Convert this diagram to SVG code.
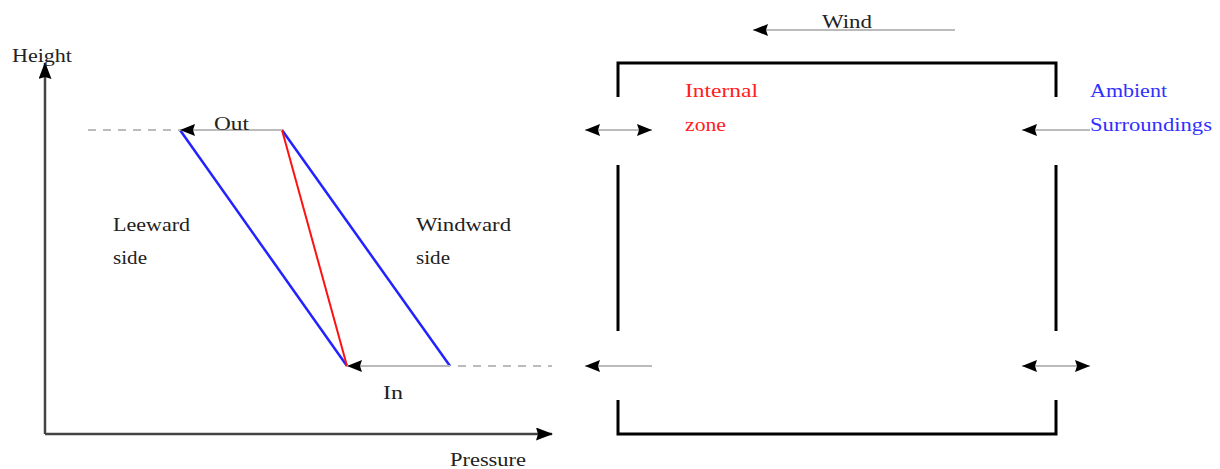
<svg xmlns="http://www.w3.org/2000/svg" width="1220" height="469" viewBox="0 0 1220 469">
<style>
text{font-family:"Liberation Serif","DejaVu Serif",serif;font-size:19px;fill:#222}
.axis{stroke:#444;stroke-width:2.5;fill:none}
.arr{stroke:#bbb;stroke-width:2;fill:none}
.dash{stroke:#bbb;stroke-width:2;stroke-dasharray:8,7;fill:none}
.wall{stroke:#000;stroke-width:3;fill:none}
.red{fill:#ff2020}
.blue{fill:#3030ff}
</style>
<defs>
<marker id="ah" viewBox="0 0 15 12" refX="15" refY="6" markerWidth="15" markerHeight="12" markerUnits="userSpaceOnUse" orient="auto-start-reverse">
<path d="M0,0 L15,6 L0,12 L2,6 Z" fill="#000"/>
</marker>
<marker id="axh" viewBox="0 0 17 13" refX="16" refY="6.5" markerWidth="17" markerHeight="13" markerUnits="userSpaceOnUse" orient="auto">
<path d="M0,0 L17,6.5 L0,13 L2,6.5 Z" fill="#000"/>
</marker>
</defs>
<g id="axes">
<line class="axis" x1="45" y1="434" x2="45" y2="63" marker-end="url(#axh)"/>
<line class="axis" x1="45" y1="434" x2="552" y2="434" marker-end="url(#axh)"/>
<text x="12" y="62" textLength="60" lengthAdjust="spacingAndGlyphs">Height</text>
<text x="450" y="466" textLength="76" lengthAdjust="spacingAndGlyphs">Pressure</text>
</g>
<g id="profile">
<line x1="180" y1="130" x2="347" y2="366" stroke="#2222ff" stroke-width="2.5"/>
<line x1="282" y1="130" x2="450" y2="366" stroke="#2222ff" stroke-width="2.5"/>
<line x1="282" y1="130" x2="347" y2="366" stroke="#ff1010" stroke-width="2"/>
<text x="113" y="231" textLength="77" lengthAdjust="spacingAndGlyphs">Leeward</text>
<text x="113" y="264" textLength="34" lengthAdjust="spacingAndGlyphs">side</text>
<text x="416" y="231" textLength="95" lengthAdjust="spacingAndGlyphs">Windward</text>
<text x="416" y="264" textLength="34" lengthAdjust="spacingAndGlyphs">side</text>
</g>
<g id="building">
<path class="wall" d="M618,97 V63 H1056 V97"/>
<path class="wall" d="M618,165 V331"/>
<path class="wall" d="M1056,165 V331"/>
<path class="wall" d="M618,400 V434 H1056 V400"/>
<text class="red" x="685" y="97" textLength="73" lengthAdjust="spacingAndGlyphs">Internal</text>
<text class="red" x="685" y="131" textLength="41" lengthAdjust="spacingAndGlyphs">zone</text>
<text class="blue" x="1090" y="97" textLength="77" lengthAdjust="spacingAndGlyphs">Ambient</text>
<text class="blue" x="1090" y="131" textLength="122" lengthAdjust="spacingAndGlyphs">Surroundings</text>
</g>
<g id="connectors">
<line class="dash" x1="88" y1="130" x2="180" y2="130"/>
<line class="arr" x1="282" y1="130" x2="180" y2="130" marker-end="url(#ah)"/>
<line class="arr" x1="450" y1="366" x2="347" y2="366" marker-end="url(#ah)"/>
<line class="dash" x1="458" y1="366" x2="552" y2="366"/>
<line class="arr" x1="955" y1="30" x2="753" y2="30" marker-end="url(#ah)"/>
<line class="arr" x1="585" y1="130" x2="652" y2="130" marker-start="url(#ah)" marker-end="url(#ah)"/>
<line class="arr" x1="1090" y1="130" x2="1022" y2="130" marker-end="url(#ah)"/>
<line class="arr" x1="652" y1="366" x2="585" y2="366" marker-end="url(#ah)"/>
<line class="arr" x1="1022" y1="366" x2="1090" y2="366" marker-start="url(#ah)" marker-end="url(#ah)"/>
</g>
<g id="labels">
<text x="214" y="130" textLength="35" lengthAdjust="spacingAndGlyphs">Out</text>
<text x="383" y="399" textLength="20" lengthAdjust="spacingAndGlyphs">In</text>
<text x="822" y="28" textLength="50" lengthAdjust="spacingAndGlyphs">Wind</text>
</g>
</svg>
